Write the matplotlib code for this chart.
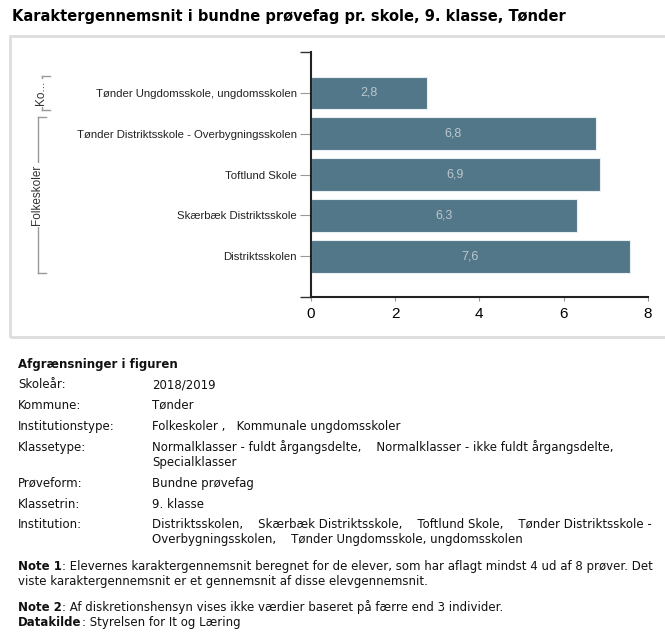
import matplotlib
matplotlib.use("Agg")
import matplotlib.pyplot as plt
from matplotlib.transforms import blended_transform_factory
from matplotlib.lines import Line2D
from matplotlib.patches import Rectangle

# data
skoler = ["Tønder Ungdomsskole, ungdomsskolen",
          "Tønder Distriktsskole - Overbygningsskolen",
          "Toftlund Skole",
          "Skærbæk Distriktsskole",
          "Distriktsskolen"]
snit = [2.76, 6.77, 6.87, 6.32, 7.57]
grupper = ["Ko...", "Folkeskoler"]
gruppe_fra = [0, 1]
gruppe_til = [0, 4]
xticks = [0, 2, 4, 6, 8]

W, H = 665, 632
fig = plt.figure(figsize=(W / 100, H / 100), dpi=100)
plt.rcParams["font.family"] = "Liberation Sans"

def fx(px):
    return px / W

def fy(py):
    return 1 - py / H

# panel ramme
fig.add_artist(Rectangle((fx(10), fy(337)), fx(700), (337 - 36) / H,
                         transform=fig.transFigure, fill=False,
                         edgecolor="#dddddd", lw=2))

fig.text(fx(12), fy(17), "Karaktergennemsnit i bundne prøvefag pr. skole, 9. klasse, Tønder",
         fontsize=10.5, fontweight="bold", family="DejaVu Sans", va="center", ha="left")

ax = fig.add_axes([fx(310.7), fy(297), (648 - 310.7) / W, (297 - 52) / H])
y = list(range(len(skoler)))
bars = ax.barh(y, snit, height=0.8, color="#527789", edgecolor="#e8eef1", linewidth=0.8)
for i, v in enumerate(snit):
    ax.text(v / 2, i, f"{v:.1f}".replace(".", ","), ha="center", va="center",
            color="#bcc7cd", fontsize=9)

ax.set_ylim(5, -1)
ax.set_xlim(0, 8)
ax.set_yticks(y)
ax.set_yticklabels(skoler, fontsize=8.2, color="#222222")
ax.tick_params(axis="y", length=8, width=0.8, color="#999999", pad=2)
ax.set_yticks([-1, 5], minor=True)
ax.tick_params(axis="y", which="minor", length=8, width=1, color="#333333")
ax.set_xticks(xticks)
ax.set_xticklabels([str(t) for t in xticks], fontsize=11)
ax.tick_params(axis="x", length=3, width=0.8, color="#999999", pad=4)
for s in ["top", "right"]:
    ax.spines[s].set_visible(False)
for s in ["left", "bottom"]:
    ax.spines[s].set_linewidth(1.5)
    ax.spines[s].set_color("#222222")

# gruppe-klammer
tr = blended_transform_factory(fig.transFigure, ax.transData)
linex = [fx(42), fx(38)]
for navn, a, b, lx in zip(grupper, gruppe_fra, gruppe_til, linex):
    y0, y1 = a - 0.41, b + 0.41
    for seg in ([lx, lx], [y0, y1]), ([lx, lx + fx(8)], [y0, y0]), ([lx, lx + fx(8)], [y1, y1]):
        fig.add_artist(Line2D(seg[0], seg[1], transform=tr, color="#999999", lw=1))
    fig.text(lx - fx(1), (a + b) / 2, navn, transform=tr, rotation=90, ha="center", va="center",
             fontsize=8.5, color="#333333",
             bbox=dict(boxstyle="square,pad=0.15", fc="white", ec="none"))

# afgrænsninger
tf = dict(family="DejaVu Sans", fontsize=8.5, va="baseline", color="#111111")
fig.text(fx(18), fy(368), "Afgrænsninger i figuren", fontweight="bold", **tf)
rows = [("Skoleår:", ["2018/2019"], 388),
        ("Kommune:", ["Tønder"], 409),
        ("Institutionstype:", ["Folkeskoler ,   Kommunale ungdomsskoler"], 430),
        ("Klassetype:", ["Normalklasser - fuldt årgangsdelte,    Normalklasser - ikke fuldt årgangsdelte,",
                         "Specialklasser"], 451),
        ("Prøveform:", ["Bundne prøvefag"], 487),
        ("Klassetrin:", ["9. klasse"], 508),
        ("Institution:", ["Distriktsskolen,    Skærbæk Distriktsskole,    Toftlund Skole,    Tønder Distriktsskole -",
                          "Overbygningsskolen,    Tønder Ungdomsskole, ungdomsskolen"], 528)]
for lab, vals, py in rows:
    fig.text(fx(18), fy(py), lab, **tf)
    for k, v in enumerate(vals):
        fig.text(fx(152), fy(py + 15 * k), v, **tf)

renderer = fig.canvas.get_renderer()
notes = [("Note 1", ": Elevernes karaktergennemsnit beregnet for de elever, som har aflagt mindst 4 ud af 8 prøver. Det", 570),
         ("Note 2", ": Af diskretionshensyn vises ikke værdier baseret på færre end 3 individer.", 611),
         ("Datakilde", ": Styrelsen for It og Læring", 626)]
for b, r, py in notes:
    t = fig.text(fx(18), fy(py), b, fontweight="bold", **tf)
    x1 = t.get_window_extent(renderer).x1
    fig.text(x1 / W, fy(py), r, **tf)
fig.text(fx(18), fy(585), "viste karaktergennemsnit er et gennemsnit af disse elevgennemsnit.", **tf)

fig.savefig("out.png", dpi=100)
